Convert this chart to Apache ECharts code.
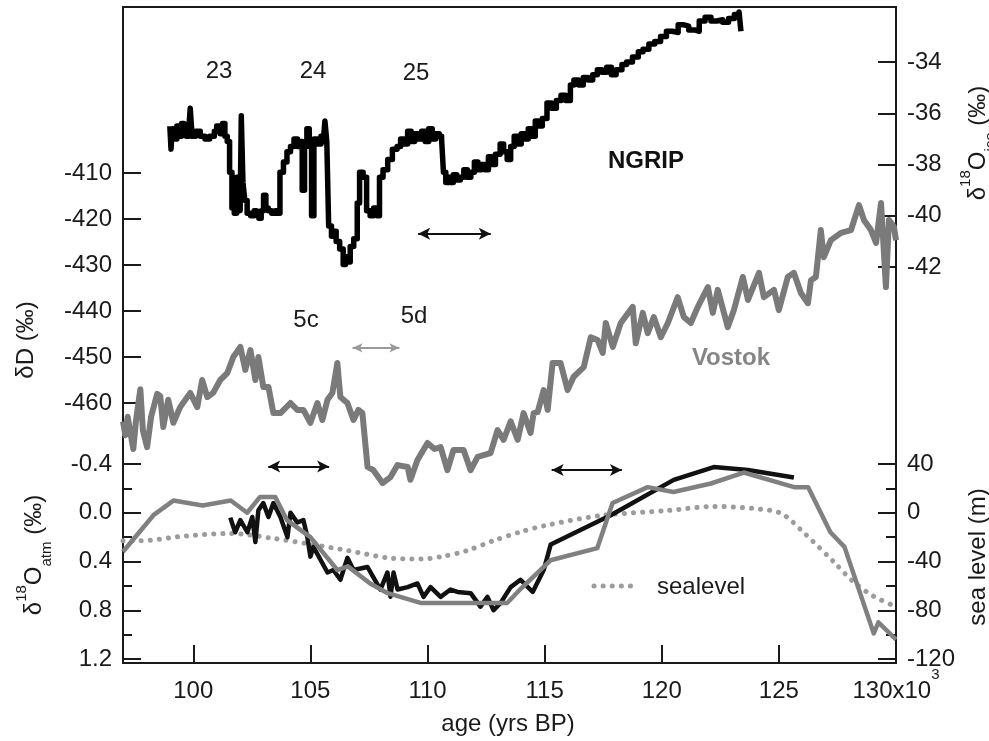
<!DOCTYPE html>
<html>
<head>
    <meta charset="utf-8">
    <script src="https://cdn.jsdelivr.net/npm/echarts@6/dist/echarts.min.js"></script>
</head>
<body style="margin:0">
<div id="main" style="width: 989px;height:741px;"></div>
<script type="text/javascript">
    // ages in kyr BP
    var ngripIce = [[99.0,-36.5],[99.05,-37.4],[99.1,-36.6],[99.2,-37.0],[99.3,-36.5],[99.4,-36.9],[99.5,-36.4],[99.6,-36.8],[99.7,-36.9],[99.8,-36.7],[99.87,-35.8],[99.95,-36.9],[100.1,-36.7],[100.3,-36.9],[100.5,-37.0],[100.7,-36.9],[100.9,-36.7],[101.0,-36.5],[101.15,-36.8],[101.25,-36.4],[101.35,-36.9],[101.45,-37.1],[101.55,-38.3],[101.65,-39.7],[101.75,-39.9],[101.85,-38.5],[101.95,-39.5],[102.0,-39.8],[102.05,-36.1],[102.12,-38.7],[102.2,-39.4],[102.3,-39.9],[102.45,-40.0],[102.6,-39.8],[102.7,-39.9],[102.8,-40.1],[102.9,-39.8],[103.0,-39.2],[103.1,-39.7],[103.2,-39.8],[103.35,-39.9],[103.5,-39.8],[103.6,-39.9],[103.7,-38.3],[103.85,-37.9],[104.0,-37.5],[104.15,-37.3],[104.3,-37.0],[104.45,-37.3],[104.55,-37.1],[104.65,-39.0],[104.75,-37.2],[104.85,-36.6],[104.95,-37.3],[105.05,-40.0],[105.15,-37.0],[105.3,-37.2],[105.45,-36.9],[105.55,-37.1],[105.62,-36.3],[105.7,-37.1],[105.78,-40.4],[105.9,-40.8],[106.0,-40.6],[106.1,-41.0],[106.25,-41.3],[106.4,-41.9],[106.5,-41.6],[106.6,-41.8],[106.7,-41.2],[106.85,-40.9],[107.0,-39.5],[107.1,-38.3],[107.25,-38.5],[107.4,-39.8],[107.55,-40.0],[107.7,-39.7],[107.85,-40.0],[107.95,-38.5],[108.1,-38.2],[108.3,-37.8],[108.5,-37.4],[108.7,-37.3],[108.85,-37.0],[109.0,-37.2],[109.15,-36.7],[109.3,-37.1],[109.45,-36.8],[109.6,-37.0],[109.75,-36.7],[109.9,-37.1],[110.05,-36.6],[110.2,-37.0],[110.35,-36.8],[110.5,-36.9],[110.6,-37.0],[110.68,-38.3],[110.78,-38.7],[110.9,-38.5],[111.0,-38.7],[111.1,-38.4],[111.25,-38.6],[111.4,-38.5],[111.55,-38.2],[111.7,-38.5],[111.85,-38.3],[112.0,-37.9],[112.15,-38.2],[112.3,-38.0],[112.45,-38.2],[112.6,-37.7],[112.75,-38.0],[112.9,-37.6],[113.1,-37.2],[113.25,-37.5],[113.4,-37.8],[113.55,-37.3],[113.7,-36.9],[113.85,-37.2],[114.0,-36.8],[114.15,-37.0],[114.3,-36.6],[114.45,-36.9],[114.6,-36.3],[114.75,-36.5],[114.9,-36.2],[115.1,-35.6],[115.3,-35.8],[115.5,-35.5],[115.7,-35.3],[115.9,-35.5],[116.1,-34.9],[116.25,-34.7],[116.45,-34.9],[116.65,-34.6],[116.85,-34.7],[117.05,-34.5],[117.25,-34.3],[117.45,-34.4],[117.65,-34.2],[117.85,-34.5],[118.05,-34.3],[118.3,-34.1],[118.5,-34.0],[118.75,-33.8],[119.0,-33.6],[119.2,-33.5],[119.45,-33.3],[119.7,-33.2],[119.95,-33.0],[120.2,-32.8],[120.45,-32.85],[120.7,-32.55],[120.95,-32.6],[121.15,-32.75],[121.4,-32.8],[121.6,-32.4],[121.85,-32.25],[122.1,-32.4],[122.35,-32.35],[122.6,-32.45],[122.85,-32.3],[123.1,-32.15],[123.3,-32.05],[123.38,-32.8]];

    var vostokDD = [[97.0,-464],[97.1,-467],[97.2,-463],[97.3,-466],[97.44,-470],[97.55,-464],[97.74,-457],[97.85,-466],[98.03,-469.6],[98.2,-463],[98.46,-458],[98.59,-458.5],[98.72,-465.2],[98.93,-459.3],[99.15,-464.3],[99.44,-460.9],[99.87,-457.8],[100.17,-460.9],[100.38,-455],[100.6,-458.7],[100.85,-457.8],[101.15,-455],[101.45,-453.5],[101.71,-450],[102.01,-447.8],[102.22,-452.8],[102.44,-448.5],[102.65,-455],[102.78,-450],[102.99,-456.5],[103.21,-456.5],[103.42,-462.2],[103.72,-462.2],[104.15,-460],[104.44,-461.5],[104.7,-461.5],[105.0,-464.3],[105.3,-460],[105.51,-463.7],[105.73,-459.3],[105.94,-457.8],[106.15,-451.3],[106.28,-458.7],[106.58,-460],[106.84,-463.7],[107.05,-461.5],[107.22,-462.2],[107.44,-473.9],[107.69,-474.6],[108.08,-477.4],[108.42,-476.1],[108.72,-473.5],[109.15,-473.9],[109.27,-476.7],[109.57,-472.4],[110.0,-468.7],[110.3,-470],[110.56,-469.6],[110.85,-474.6],[111.11,-470.2],[111.54,-470.2],[111.84,-474.6],[112.14,-471.7],[112.69,-470.9],[112.99,-465.9],[113.25,-468],[113.55,-464],[113.85,-468],[114.1,-462.2],[114.4,-466.5],[114.53,-462.2],[114.7,-462],[114.96,-457.2],[115.13,-461.5],[115.34,-451.3],[115.68,-451.3],[115.98,-457.2],[116.24,-454.3],[116.67,-452.2],[116.97,-445.7],[117.26,-446.3],[117.48,-449.1],[117.61,-442.6],[117.91,-447.8],[118.25,-442.6],[118.76,-439.1],[118.89,-447],[119.19,-440.4],[119.4,-444.8],[119.66,-441.3],[119.96,-445.7],[120.26,-442.6],[120.68,-437],[120.94,-441.3],[121.24,-442.6],[121.54,-439.1],[121.97,-434.8],[122.18,-440.4],[122.39,-435.4],[122.82,-443.5],[123.08,-439.8],[123.46,-432.6],[123.68,-437.6],[124.15,-431.7],[124.36,-437],[124.79,-435.4],[125.0,-439.8],[125.38,-432.6],[125.64,-431.7],[125.94,-436.1],[126.24,-438.3],[126.37,-433.3],[126.58,-432.6],[126.79,-422.4],[126.92,-428.3],[127.22,-424.6],[127.65,-423],[128.08,-422.4],[128.42,-417],[128.63,-420.2],[128.93,-422.4],[129.15,-425.2],[129.36,-416.5],[129.57,-434.8],[129.7,-420.2],[129.91,-421.7],[130.0,-424.6]];

    var atmBlack = [[101.58,0.04],[101.79,0.16],[102.01,0.06],[102.31,0.16],[102.52,0.035],[102.65,0.24],[102.78,-0.02],[102.99,-0.08],[103.21,0.035],[103.42,-0.08],[103.72,0.035],[104.02,0.2],[104.15,0.0],[104.44,0.08],[104.7,0.06],[104.87,0.2],[105.0,0.36],[105.13,0.28],[105.73,0.49],[105.98,0.47],[106.28,0.55],[106.58,0.37],[106.84,0.47],[107.44,0.445],[107.69,0.53],[107.99,0.63],[108.29,0.49],[108.42,0.69],[108.55,0.49],[108.72,0.63],[109.15,0.61],[109.57,0.58],[109.83,0.69],[110.13,0.61],[110.56,0.69],[110.98,0.63],[111.28,0.65],[111.84,0.66],[112.26,0.77],[112.56,0.69],[112.82,0.8],[113.12,0.74],[113.55,0.61],[113.97,0.55],[114.49,0.65],[114.96,0.47],[115.26,0.26],[117.82,0.02],[120.51,-0.27],[122.22,-0.375],[123.68,-0.35],[125.64,-0.29]];

    var atmGray = [[97.0,0.32],[98.3,0.02],[99.15,-0.1],[100.4,-0.06],[101.6,-0.1],[102.3,0.0],[102.85,-0.13],[103.5,-0.13],[104.0,0.06],[105.0,0.2],[106.15,0.47],[106.6,0.44],[107.55,0.58],[108.3,0.66],[109.7,0.74],[113.4,0.74],[114.0,0.62],[115.25,0.39],[117.25,0.29],[117.9,-0.08],[119.4,-0.21],[120.5,-0.17],[122.1,-0.24],[123.5,-0.33],[125.65,-0.21],[126.25,-0.21],[127.2,0.16],[127.8,0.28],[129.05,0.99],[129.25,0.9],[130.0,1.04]];

    var seaLevel = [[97.0,-23],[97.7,-23],[99.7,-19],[101.6,-17],[103.4,-21],[104.9,-25.5],[106.6,-31],[108.3,-37],[109.7,-38],[110.6,-36],[111.7,-31],[112.8,-23],[114.0,-15.5],[115.0,-10.6],[117.4,-2.3],[120.3,1.9],[122.2,5.2],[123.9,3.5],[125.1,-0.6],[126.1,-17],[127.35,-40.4],[128.2,-57],[129.05,-68.6],[130.0,-77]];

    var ageTicks = [100, 105, 110, 115, 120, 125, 130];

    // age ranges marked by double arrows: [from, to, level]
    var arrowsIce = [[109.6, 112.7, -40.7]];
    var arrowsDD = [[106.8, 108.8, -448]];
    var arrowsAtm = [[103.2, 105.8, -0.38], [115.3, 118.3, -0.35], [121.6, 125.2, -0.43]];

    var font = 'Liberation Sans, Arial, sans-serif';
    var ink = '#1a1a1a';

    function arrowLines(list, color, width, size) {
        return {
            silent: true,
            symbol: ['arrow', 'arrow'],
            symbolSize: size,
            label: {show: false},
            lineStyle: {color: color, width: width, type: 'solid'},
            data: list.map(function (a) {
                return [{coord: [a[0], a[2]]}, {coord: [a[1], a[2]]}];
            })
        };
    }

    var yStyle = {
        axisLine: {show: false},
        axisTick: {inside: true, length: 18, lineStyle: {color: ink, width: 2}},
        axisLabel: {color: ink, fontSize: 24, fontFamily: font, margin: 11},
        splitLine: {show: false}
    };

    function yAx(o) {
        return Object.assign({type: 'value'}, JSON.parse(JSON.stringify(yStyle)), o);
    }

    var myChart = echarts.init(document.getElementById('main'));

    var option = {
        animation: false,
        backgroundColor: '#fff',
        grid: [
            {left: 123, right: 93, top: 7, bottom: 78, show: true, borderColor: ink, borderWidth: 2},
            {left: 123, right: 93, top: 173, height: 230},
            {left: 123, right: 93, top: 62, height: 205},
            {left: 123, right: 93, top: 464, height: 195}
        ],
        xAxis: [
            {
                type: 'value', gridIndex: 0, min: 97, max: 130,
                axisLine: {lineStyle: {color: ink, width: 2}},
                axisTick: {inside: true, length: 18, customValues: ageTicks, lineStyle: {color: ink, width: 2}},
                axisLabel: {
                    customValues: ageTicks,
                    color: ink, fontSize: 24, fontFamily: font, margin: 4, lineHeight: 48,
                    formatter: function (v) {
                        if (v % 5 !== 0) return '';
                        return v === 130 ? '130x10{sup|3}' : String(v);
                    },
                    rich: {sup: {fontSize: 15, lineHeight: 15, verticalAlign: 'top', color: ink, fontFamily: font}}
                },
                splitLine: {show: false}
            },
            {type: 'value', gridIndex: 1, min: 97, max: 130, show: false},
            {type: 'value', gridIndex: 2, min: 97, max: 130, show: false},
            {type: 'value', gridIndex: 3, min: 97, max: 130, show: false}
        ],
        yAxis: [
            {type: 'value', gridIndex: 0, min: 0, max: 1, show: false},
            yAx({gridIndex: 1, position: 'left', min: -460, max: -410, interval: 10}),
            yAx({gridIndex: 2, position: 'right', min: -42, max: -34, interval: 2}),
            yAx({gridIndex: 3, position: 'left', inverse: true, min: -0.4, max: 1.2, interval: 0.4,
                minorTick: {show: true, splitNumber: 2, length: 9, lineStyle: {color: ink, width: 2}},
                axisLabel: {color: ink, fontSize: 24, fontFamily: font, margin: 11,
                    formatter: function (v) { return v.toFixed(1); }}}),
            yAx({gridIndex: 3, position: 'right', min: -120, max: 40, interval: 40,
                minorTick: {show: true, splitNumber: 2, length: 10, lineStyle: {color: ink, width: 2}}})
        ],
        series: [
            {
                name: 'sealevel', type: 'line', xAxisIndex: 3, yAxisIndex: 4, data: seaLevel,
                symbol: 'none', smooth: 0.3, clip: false,
                lineStyle: {color: '#9c9c9c', width: 5, type: [0.1, 9], cap: 'round'}
            },
            {
                name: 'NGRIP', type: 'line', xAxisIndex: 2, yAxisIndex: 2, data: ngripIce,
                symbol: 'none', step: 'end', clip: false,
                lineStyle: {color: '#000', width: 5.5, join: 'round'},
                markLine: arrowLines(arrowsIce, '#111', 2, [9, 12])
            },
            {
                name: 'Vostok', type: 'line', xAxisIndex: 1, yAxisIndex: 1, data: vostokDD,
                symbol: 'none', clip: false,
                lineStyle: {color: '#7a7a7a', width: 6, join: 'round'},
                markLine: arrowLines(arrowsDD, '#9a9a9a', 2, [7, 10])
            },
            {
                name: 'atm NGRIP', type: 'line', xAxisIndex: 3, yAxisIndex: 3, data: atmBlack,
                symbol: 'none', clip: false,
                lineStyle: {color: '#111', width: 4.5, join: 'round'},
                markLine: arrowLines(arrowsAtm, '#111', 2, [9, 12])
            },
            {
                name: 'atm Vostok', type: 'line', xAxisIndex: 3, yAxisIndex: 3, data: atmGray,
                symbol: 'none', clip: false,
                lineStyle: {color: '#808080', width: 4.5, join: 'round'}
            }
        ],
        graphic: [
            {type: 'text', x: 219, y: 71, style: {text: '23', font: '24px ' + font, fill: ink, align: 'center', verticalAlign: 'middle'}},
            {type: 'text', x: 313, y: 71, style: {text: '24', font: '24px ' + font, fill: ink, align: 'center', verticalAlign: 'middle'}},
            {type: 'text', x: 416, y: 73, style: {text: '25', font: '24px ' + font, fill: ink, align: 'center', verticalAlign: 'middle'}},
            {type: 'text', x: 646, y: 161, style: {text: 'NGRIP', font: 'bold 24px ' + font, fill: '#111', align: 'center', verticalAlign: 'middle'}},
            {type: 'text', x: 306, y: 320, style: {text: '5c', font: '24px ' + font, fill: ink, align: 'center', verticalAlign: 'middle'}},
            {type: 'text', x: 414, y: 316, style: {text: '5d', font: '24px ' + font, fill: ink, align: 'center', verticalAlign: 'middle'}},
            {type: 'text', x: 731, y: 358, style: {text: 'Vostok', font: 'bold 24px ' + font, fill: '#858585', align: 'center', verticalAlign: 'middle'}},
            {type: 'line', shape: {x1: 594, y1: 586, x2: 638, y2: 586},
                style: {stroke: '#9c9c9c', lineWidth: 5, lineDash: [0.1, 9], lineCap: 'round'}},
            {type: 'text', x: 657, y: 587, style: {text: 'sealevel', font: '24px ' + font, fill: ink, align: 'left', verticalAlign: 'middle'}},
            {type: 'text', x: 508, y: 724, style: {text: 'age (yrs BP)', font: '24px ' + font, fill: ink, align: 'center', verticalAlign: 'middle'}},
            {type: 'text', x: 26, y: 340, rotation: Math.PI / 2,
                style: {text: 'δD (‰)', font: '24px ' + font, fill: ink, align: 'center', verticalAlign: 'middle'}},
            {type: 'text', x: 34, y: 555, rotation: Math.PI / 2,
                style: {text: 'δ{sup|18}O{sub|atm} (‰)', font: '24px ' + font, fill: ink, align: 'center', verticalAlign: 'middle', lineHeight: 40,
                    rich: {sup: {font: '15px ' + font, fill: ink, lineHeight: 15, verticalAlign: 'top'},
                           sub: {font: '15px ' + font, fill: ink, lineHeight: 15, verticalAlign: 'bottom'}}}},
            {type: 'text', x: 978, y: 143, rotation: Math.PI / 2,
                style: {text: 'δ{sup|18}O{sub|ice} (‰)', font: '24px ' + font, fill: ink, align: 'center', verticalAlign: 'middle', lineHeight: 40,
                    rich: {sup: {font: '15px ' + font, fill: ink, lineHeight: 15, verticalAlign: 'top'},
                           sub: {font: '15px ' + font, fill: ink, lineHeight: 15, verticalAlign: 'bottom'}}}},
            {type: 'text', x: 978, y: 557, rotation: Math.PI / 2,
                style: {text: 'sea level (m)', font: '24px ' + font, fill: ink, align: 'center', verticalAlign: 'middle'}}
        ]
    };

    myChart.setOption(option);
</script>
</body>
</html>
